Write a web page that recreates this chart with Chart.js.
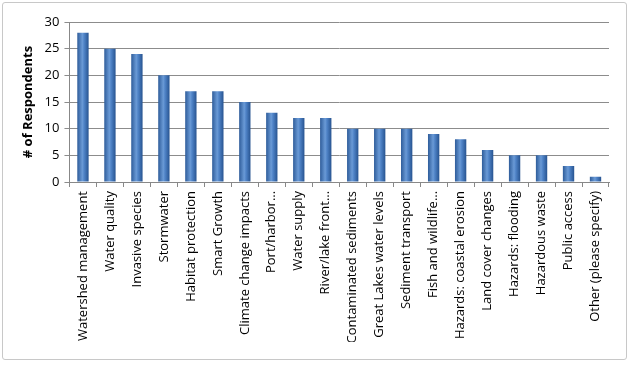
<!DOCTYPE html>
<html>
<head>
<meta charset="utf-8">
<script src="https://cdn.jsdelivr.net/npm/chart.js@4"></script>
<style>
html, body { margin: 0; padding: 0; background: #fff; }
#wrap { position: absolute; left: 2px; top: 2px; width: 623px; height: 356px; border: 1px solid #c8c8c8; border-radius: 3px; }
#box { position: absolute; left: 0; top: 0; width: 631px; height: 365px; }
</style>
</head>
<body>
<div id="wrap"></div>
<div id="box"><canvas id="c" width="631" height="365"></canvas></div>
<script>
// категории (темы) и число респондентов
var topics = [
	"Watershed management", "Water quality", "Invasive species", "Stormwater",
	"Habitat protection", "Smart Growth", "Climate change impacts", "Port/harbor…",
	"Water supply", "River/lake front…", "Contaminated sediments", "Great Lakes water levels",
	"Sediment transport", "Fish and wildlife…", "Hazards: coastal erosion", "Land cover changes",
	"Hazards: flooding", "Hazardous waste", "Public access", "Other (please specify)"
];
var respondents = [28, 25, 24, 20, 17, 17, 15, 13, 12, 12, 10, 10, 10, 9, 8, 6, 5, 5, 3, 1];
var yTicks = [0, 5, 10, 15, 20, 25, 30];

// градиент для столбика (темнее по краям, светлее в середине)
function barColor(c) {
	var chart = c.chart, sx = chart.scales.x;
	if (!sx || c.dataIndex === undefined) return "#3a70b8";
	var x = sx.getPixelForValue(c.dataIndex), w = 6;
	if (!isFinite(x)) return "#3a70b8";
	var g = chart.ctx.createLinearGradient(x - w, 0, x + w, 0);
	g.addColorStop(0, "#2a5896");
	g.addColorStop(0.45, "#6a9ad6");
	g.addColorStop(0.6, "#4f83c7");
	g.addColorStop(1, "#24508c");
	return g;
}

var ctx = document.getElementById("c").getContext("2d");
var myChart = new Chart(ctx, {
	type: "bar",
	data: {
		labels: topics,
		datasets: [{
			data: respondents,
			backgroundColor: barColor,
			borderColor: "#2a5896",
			borderWidth: 0,
			barPercentage: 0.42,
			categoryPercentage: 1
		}]
	},
	options: {
		responsive: false,
		animation: false,
		layout: { padding: { left: 16, top: 22, right: 22, bottom: 23 } },
		plugins: { legend: { display: false }, tooltip: { enabled: false } },
		scales: {
			x: {
				grid: { display: true, drawOnChartArea: false, offset: true, color: "#888", tickLength: 5 },
				border: { color: "#888" },
				ticks: {
					autoSkip: false, maxRotation: 90, minRotation: 90,
					color: "#000", padding: 4,
					font: { family: "Open Sans", size: 13 }
				}
			},
			y: {
				min: 0, max: 30,
				afterBuildTicks: function (s) { s.ticks = yTicks.map(function (v) { return { value: v }; }); },
				grid: { color: "#8c8c8c", tickLength: 5 },
				border: { color: "#888" },
				ticks: { color: "#000", padding: 5, font: { family: "Open Sans", size: 13 } },
				title: {
					display: true, text: "# of Respondents", color: "#000",
					font: { family: "Open Sans", size: 13, weight: "bold" }, padding: 4
				}
			}
		}
	}
});
</script>
</body>
</html>
